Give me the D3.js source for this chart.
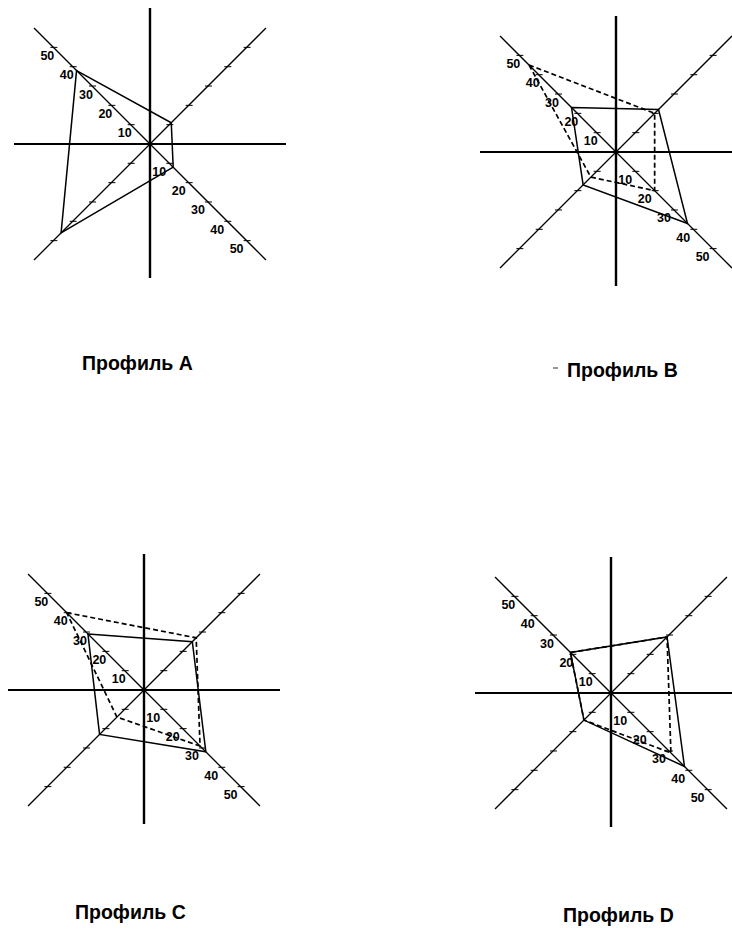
<!DOCTYPE html>
<html>
<head>
<meta charset="utf-8">
<script src="https://cdnjs.cloudflare.com/ajax/libs/d3/7.8.5/d3.min.js"></script>
<style>
  body { margin: 0; background: #fff; }
  svg { display: block; }
  .axis { stroke: #000; fill: none; }
  .tick-label { font-family: "Liberation Sans", Arial, sans-serif; font-size: 12.5px; font-weight: bold; }
  .title { font-family: "Liberation Sans", Arial, sans-serif; font-size: 19.5px; font-weight: bold; }
</style>
</head>
<body>
<svg class="chart"></svg>
<script>
// four rays of each profile, clockwise from upper-left
var axisNames = ["NW", "NE", "SE", "SW"];
var tickValues = [10, 20, 30, 40, 50];
var titles = ["Профиль A", "Профиль B", "Профиль C", "Профиль D"];

// values read along NW, NE, SE, SW
var profileA = [38, 11, 12, 46];
var profileB = [23, 22, 37, 17];
var profileBDashed = [45, 20, 20, 13];
var profileC = [29, 25, 32, 23];
var profileCDashed = [40, 27, 29, 14];
var profileD = [21, 29, 38, 14];
var profileDDashed = [21, 29, 31, 14];

var width = 732, height = 929;

var angles = [-Math.PI / 4, Math.PI / 4, 3 * Math.PI / 4, 5 * Math.PI / 4];

var r = d3.scaleLinear()
    .domain([0, 60])
    .range([0, 164]);

var crossHalf = 136; // length of the plain horizontal / vertical cross

var panels = [
  {cx: 150, cy: 144, title: titles[0], tx: 82, ty: 370, solid: profileA, dashed: null},
  {cx: 616, cy: 152, title: titles[1], tx: 567, ty: 377, solid: profileB, dashed: profileBDashed},
  {cx: 144, cy: 690, title: titles[2], tx: 75, ty: 919, solid: profileC, dashed: profileCDashed},
  {cx: 611, cy: 693, title: titles[3], tx: 563, ty: 922, solid: profileD, dashed: profileDDashed}
];

var svg = d3.select(".chart")
    .attr("width", width)
    .attr("height", height);

svg.append("rect")
    .attr("width", width)
    .attr("height", height)
    .attr("fill", "#fff");

var radial = d3.lineRadial()
    .angle(function(d, i) { return angles[i]; })
    .radius(function(d) { return r(d); })
    .curve(d3.curveLinearClosed);

var panel = svg.selectAll("g.panel")
    .data(panels)
  .enter().append("g")
    .attr("class", "panel")
    .attr("transform", function(d) { return "translate(" + d.cx + "," + d.cy + ")"; });

// plain cross
panel.append("line")
    .attr("class", "axis")
    .attr("x1", 0).attr("x2", 0)
    .attr("y1", -crossHalf).attr("y2", crossHalf - 2)
    .attr("stroke-width", 2.4);

panel.append("line")
    .attr("class", "axis")
    .attr("x1", -crossHalf).attr("x2", crossHalf)
    .attr("y1", 0).attr("y2", 0)
    .attr("stroke-width", 1.9);

// diagonal scaled rays
panel.each(function() {
  var g = d3.select(this);
  angles.forEach(function(a, k) {
    var end = d3.pointRadial(a, r(60));
    g.append("line")
        .attr("class", "axis")
        .attr("x1", 0).attr("y1", 0)
        .attr("x2", end[0]).attr("y2", end[1])
        .attr("stroke-width", 1.3);

    tickValues.forEach(function(v) {
      var p = d3.pointRadial(a, r(v));
      g.append("line")
          .attr("class", "axis")
          .attr("x1", p[0] - 3).attr("x2", p[0] + 4)
          .attr("y1", p[1]).attr("y2", p[1])
          .attr("stroke-width", 1);

      // only the NW-SE ray carries numbers
      if (axisNames[k] == "NW" || axisNames[k] == "SE") {
        var dx = axisNames[k] == "NW" ? -6 : -10;
        g.append("text")
            .attr("class", "tick-label")
            .attr("x", p[0] + dx)
            .attr("y", p[1] + 8)
            .attr("dy", "0.36em")
            .attr("text-anchor", "middle")
            .text(v);
      }
    });
  });
});

// profiles
panel.append("path")
    .attr("d", function(d) { return radial(d.solid); })
    .attr("fill", "none")
    .attr("stroke", "#000")
    .attr("stroke-width", 1.5);

panel.filter(function(d) { return d.dashed; })
  .append("path")
    .attr("d", function(d) { return radial(d.dashed); })
    .attr("fill", "none")
    .attr("stroke", "#000")
    .attr("stroke-width", 1.7)
    .attr("stroke-dasharray", "5,3");

// titles
svg.selectAll("text.title")
    .data(panels)
  .enter().append("text")
    .attr("class", "title")
    .attr("x", function(d) { return d.tx; })
    .attr("y", function(d) { return d.ty; })
    .text(function(d) { return d.title; });

// small scan dash in front of the second title
svg.append("line")
    .attr("x1", 553).attr("x2", 558)
    .attr("y1", 368).attr("y2", 368)
    .attr("stroke", "#555")
    .attr("stroke-width", 1.2);
</script>
</body>
</html>
